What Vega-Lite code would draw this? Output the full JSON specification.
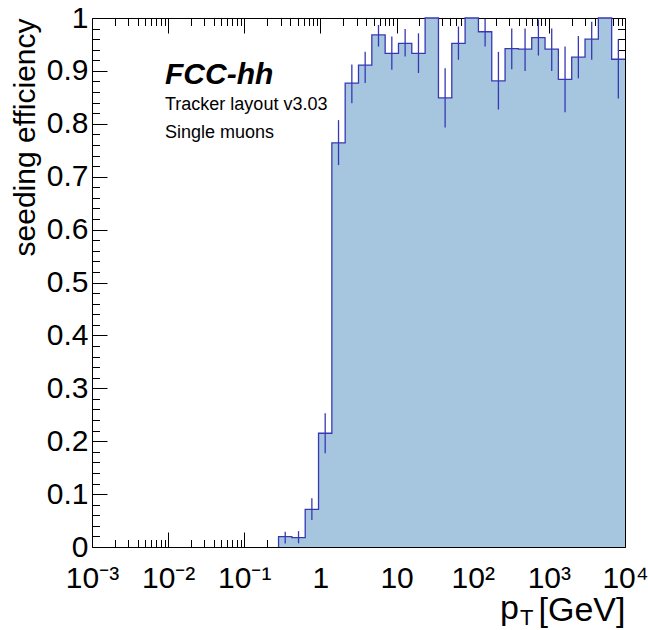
{
  "$schema": "https://vega.github.io/schema/vega-lite/v6.json",
  "width": 533,
  "height": 529,
  "autosize": {"type": "none"},
  "padding": {"left": 92, "top": 18, "right": 23, "bottom": 83},
  "background": "white",
  "config": {
    "view": {"stroke": null},
    "font": "Liberation Sans",
    "axis": {"zindex": 1, "grid": false, "tickColor": "black", "domainColor": "black", "labelColor": "black", "titleColor": "black", "labelFont": "Liberation Sans", "titleFont": "Liberation Sans", "titleFontWeight": "normal"}
  },
  "datasets": {
    "bins": [
      {"lo": 0.001, "hi": 0.0014962, "eff": 0},
      {"lo": 0.0014962, "hi": 0.0022387, "eff": 0},
      {"lo": 0.0022387, "hi": 0.0033497, "eff": 0},
      {"lo": 0.0033497, "hi": 0.0050119, "eff": 0},
      {"lo": 0.0050119, "hi": 0.0074989, "eff": 0},
      {"lo": 0.0074989, "hi": 0.01122, "eff": 0},
      {"lo": 0.01122, "hi": 0.016788, "eff": 0},
      {"lo": 0.016788, "hi": 0.025119, "eff": 0},
      {"lo": 0.025119, "hi": 0.037584, "eff": 0},
      {"lo": 0.037584, "hi": 0.056234, "eff": 0},
      {"lo": 0.056234, "hi": 0.08414, "eff": 0},
      {"lo": 0.08414, "hi": 0.12589, "eff": 0},
      {"lo": 0.12589, "hi": 0.18836, "eff": 0},
      {"lo": 0.18836, "hi": 0.28184, "eff": 0},
      {"lo": 0.28184, "hi": 0.4217, "c": 0.34483, "eff": 0.0195, "elo": 0.0066, "ehi": 0.029},
      {"lo": 0.4217, "hi": 0.63096, "c": 0.51595, "eff": 0.0176, "elo": 0.007, "ehi": 0.03},
      {"lo": 0.63096, "hi": 0.94406, "c": 0.77197, "eff": 0.071, "elo": 0.051, "ehi": 0.092},
      {"lo": 0.94406, "hi": 1.41254, "c": 1.15505, "eff": 0.215, "elo": 0.177, "ehi": 0.253},
      {"lo": 1.41254, "hi": 2.11349, "c": 1.72822, "eff": 0.764, "elo": 0.722, "ehi": 0.807},
      {"lo": 2.11349, "hi": 3.16228, "c": 2.58584, "eff": 0.877, "elo": 0.839, "ehi": 0.912},
      {"lo": 3.16228, "hi": 4.73151, "c": 3.86901, "eff": 0.911, "elo": 0.877, "ehi": 0.936},
      {"lo": 4.73151, "hi": 7.07946, "c": 5.78899, "eff": 0.968, "elo": 0.946, "ehi": 0.987},
      {"lo": 7.07946, "hi": 10.5925, "c": 8.66168, "eff": 0.933, "elo": 0.902, "ehi": 0.965},
      {"lo": 10.5925, "hi": 15.8489, "c": 12.9598, "eff": 0.952, "elo": 0.927, "ehi": 0.979},
      {"lo": 15.8489, "hi": 23.7137, "c": 19.391, "eff": 0.933, "elo": 0.896, "ehi": 0.971},
      {"lo": 23.7137, "hi": 35.4813, "c": 29.0134, "eff": 1.0},
      {"lo": 35.4813, "hi": 53.0884, "c": 43.4114, "eff": 0.849, "elo": 0.793, "ehi": 0.905},
      {"lo": 53.0884, "hi": 79.4328, "c": 64.9534, "eff": 0.952, "elo": 0.921, "ehi": 0.984},
      {"lo": 79.4328, "hi": 118.85, "c": 97.185, "eff": 1.0},
      {"lo": 118.85, "hi": 177.828, "c": 145.412, "eff": 0.974, "elo": 0.946, "ehi": 0.998},
      {"lo": 177.828, "hi": 266.073, "c": 217.572, "eff": 0.881, "elo": 0.827, "ehi": 0.936},
      {"lo": 266.073, "hi": 398.107, "c": 325.538, "eff": 0.942, "elo": 0.903, "ehi": 0.98},
      {"lo": 398.107, "hi": 595.662, "c": 487.08, "eff": 0.941, "elo": 0.9, "ehi": 0.98},
      {"lo": 595.662, "hi": 891.251, "c": 728.79, "eff": 0.963, "elo": 0.929, "ehi": 0.997},
      {"lo": 891.251, "hi": 1333.52, "c": 1090.44, "eff": 0.941, "elo": 0.9, "ehi": 0.98},
      {"lo": 1333.52, "hi": 1995.26, "c": 1631.55, "eff": 0.884, "elo": 0.822, "ehi": 0.946},
      {"lo": 1995.26, "hi": 2985.38, "c": 2441.19, "eff": 0.926, "elo": 0.886, "ehi": 0.966},
      {"lo": 2985.38, "hi": 4466.84, "c": 3652.58, "eff": 0.96, "elo": 0.921, "ehi": 0.993},
      {"lo": 4466.84, "hi": 6683.44, "c": 5465.1, "eff": 1.0},
      {"lo": 6683.44, "hi": 10000, "c": 8177.1, "eff": 0.922, "elo": 0.848, "ehi": 0.96}
    ],
    "brand": [
      {"x": 0.0091, "y": 0.875, "label": "FCC-hh"}
    ],
    "info": [
      {"x": 0.0091, "y": 0.827, "label": "Tracker layout v3.03"},
      {"x": 0.0091, "y": 0.774, "label": "Single muons"}
    ]
  },
  "data": {"name": "bins"},
  "resolve": {"axis": {"x": "independent", "y": "independent"}},
  "layer": [
    {
      "mark": {"type": "area", "interpolate": "step-before", "fill": "#a6c6e0", "stroke": null},
      "encoding": {
        "x": {"field": "hi", "type": "quantitative", "scale": {"type": "log", "domain": [0.001, 10000], "nice": false},
          "axis": {"orient": "bottom", "values": [0.001, 0.01, 0.1, 1, 10, 100, 1000, 10000], "tickSize": -15, "labelPadding": 31, "labelFontSize": 30,
            "labelExpr": "datum.value < 0.005 ? '10⁻³' : datum.value < 0.05 ? '10⁻²' : datum.value < 0.5 ? '10⁻¹' : datum.value < 5 ? '1' : datum.value < 50 ? '10' : datum.value < 500 ? '10²' : datum.value < 5000 ? '10³' : '10⁴'",
            "labelFlush": false, "labelOverlap": false, "domain": true,
            "title": "[GeV]", "titleFontSize": 34, "titleAnchor": "end", "titlePadding": 0}},
        "y": {"field": "eff", "type": "quantitative", "scale": {"domain": [0, 1], "nice": false},
          "axis": {"orient": "left", "values": [0, 0.1, 0.2, 0.3, 0.4, 0.5, 0.6, 0.7, 0.8, 0.9, 1], "format": ".1~f", "tickSize": -15, "labelPadding": 19, "labelFontSize": 30, "labelFlush": false, "labelOverlap": false, "domain": true,
            "title": "seeding efficiency", "titleFontSize": 30, "titleAnchor": "end", "titlePadding": 6}}
      }
    },
    {
      "transform": [{"filter": "datum.hi > 0.28"}],
      "mark": {"type": "line", "interpolate": "step-before", "color": "#3838b4", "strokeWidth": 1.3},
      "encoding": {
        "x": {"field": "hi", "type": "quantitative",
          "axis": {"orient": "bottom", "values": [0.002,0.003,0.004,0.005,0.006,0.007,0.008,0.009,0.02,0.03,0.04,0.05,0.06,0.07,0.08,0.09,0.2,0.3,0.4,0.5,0.6,0.7,0.8,0.9,2,3,4,5,6,7,8,9,20,30,40,50,60,70,80,90,200,300,400,500,600,700,800,900,2000,3000,4000,5000,6000,7000,8000,9000], "tickSize": -7.5, "labels": false, "domain": false, "title": null}},
        "y": {"field": "eff", "type": "quantitative",
          "axis": {"orient": "left", "values": [0.02,0.04,0.06,0.08,0.12,0.14,0.16,0.18,0.22,0.24,0.26,0.28,0.32,0.34,0.36,0.38,0.42,0.44,0.46,0.48,0.52,0.54,0.56,0.58,0.62,0.64,0.66,0.68,0.72,0.74,0.76,0.78,0.82,0.84,0.86,0.88,0.92,0.94,0.96,0.98], "tickSize": -7.5, "labels": false, "domain": false, "title": null}}
      }
    },
    {
      "transform": [{"filter": "isValid(datum.elo)"}],
      "mark": {"type": "rule", "color": "#3838b4", "strokeWidth": 1.3},
      "encoding": {
        "x": {"field": "c", "type": "quantitative",
          "axis": {"orient": "top", "values": [0.001, 0.01, 0.1, 1, 10, 100, 1000, 10000], "tickSize": -15, "labels": false, "domain": true, "title": null}},
        "y": {"field": "elo", "type": "quantitative",
          "axis": {"orient": "right", "values": [0, 0.1, 0.2, 0.3, 0.4, 0.5, 0.6, 0.7, 0.8, 0.9, 1], "tickSize": -15, "labels": false, "domain": true, "title": null}},
        "y2": {"field": "ehi"}
      }
    },
    {
      "data": {"name": "brand"},
      "mark": {"type": "text", "align": "left", "baseline": "alphabetic", "font": "Liberation Sans", "fontSize": 30, "fontWeight": "bold", "fontStyle": "italic", "color": "black"},
      "encoding": {
        "x": {"field": "x", "type": "quantitative",
          "axis": {"orient": "top", "values": [0.002,0.003,0.004,0.005,0.006,0.007,0.008,0.009,0.02,0.03,0.04,0.05,0.06,0.07,0.08,0.09,0.2,0.3,0.4,0.5,0.6,0.7,0.8,0.9,2,3,4,5,6,7,8,9,20,30,40,50,60,70,80,90,200,300,400,500,600,700,800,900,2000,3000,4000,5000,6000,7000,8000,9000], "tickSize": -7.5, "labels": false, "domain": false, "title": null}},
        "y": {"field": "y", "type": "quantitative",
          "axis": {"orient": "right", "values": [0.02,0.04,0.06,0.08,0.12,0.14,0.16,0.18,0.22,0.24,0.26,0.28,0.32,0.34,0.36,0.38,0.42,0.44,0.46,0.48,0.52,0.54,0.56,0.58,0.62,0.64,0.66,0.68,0.72,0.74,0.76,0.78,0.82,0.84,0.86,0.88,0.92,0.94,0.96,0.98], "tickSize": -7.5, "labels": false, "domain": false, "title": null}},
        "text": {"field": "label"}
      }
    },
    {
      "data": {"name": "info"},
      "mark": {"type": "text", "align": "left", "baseline": "alphabetic", "font": "Liberation Sans", "fontSize": 18, "color": "black"},
      "encoding": {
        "x": {"field": "x", "type": "quantitative", "axis": null},
        "y": {"field": "y", "type": "quantitative", "axis": null},
        "text": {"field": "label"}
      }
    },
    {
      "data": {"values": [{"x": 10000, "y": 0, "label": "p"}]},
      "mark": {"type": "text", "align": "left", "baseline": "alphabetic", "font": "Liberation Sans", "fontSize": 34, "color": "black", "dx": -125, "dy": 72},
      "encoding": {
        "x": {"field": "x", "type": "quantitative", "axis": null},
        "y": {"field": "y", "type": "quantitative", "axis": null},
        "text": {"field": "label"}
      }
    },
    {
      "data": {"values": [{"x": 10000, "y": 0, "label": "T"}]},
      "mark": {"type": "text", "align": "left", "baseline": "alphabetic", "font": "Liberation Sans", "fontSize": 22, "color": "black", "dx": -105, "dy": 78},
      "encoding": {
        "x": {"field": "x", "type": "quantitative", "axis": null},
        "y": {"field": "y", "type": "quantitative", "axis": null},
        "text": {"field": "label"}
      }
    }
  ]
}
